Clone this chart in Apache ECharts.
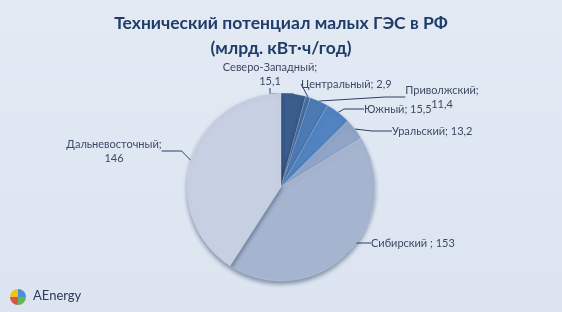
<!DOCTYPE html>
<html><head><meta charset="utf-8">
<script src="https://cdn.jsdelivr.net/npm/echarts@6/dist/echarts.min.js"></script>
<style>html,body{margin:0;padding:0;}#c{width:562px;height:312px;background:linear-gradient(180deg,#e3eaf4 0%,#dbe4f0 100%);}</style>
</head><body><div id="c"></div>
<script>
const regions = ['Северо-Западный','Центральный','Приволжский','Южный','Уральский','Сибирский','Дальневосточный'];
const values = [15.1, 2.9, 11.4, 15.5, 13.2, 153, 146];
const labelTexts = ['Северо-Западный;\n15,1','Центральный; 2,9','Приволжский;\n11,4','Южный; 15,5','Уральский; 13,2','Сибирский ; 153','Дальневосточный;\n146'];
const colors = ['#3b5d8c','#4672a6','#4c7ab4','#5083c0','#8fa4c6','#a5b5d0','#c7cfe2'];
// label anchor positions (label text placement, not data marks)
const labelPos = [[270,74,'center'],[301,84,'left'],[442,97,'center'],[364,109,'left'],[392,131,'left'],[371,243,'left'],[114,151,'center']];
const chart = echarts.init(document.getElementById('c'));
chart.setOption({
  title: {
    text: 'Технический потенциал малых ГЭС в РФ\n(млрд. кВт·ч/год)',
    left: 'center', top: 6,
    textStyle: {fontFamily: 'Lato', fontSize: 17.5, fontWeight: 'bold', color: '#1f3d6a', lineHeight: 25}
  },
  series: [{
    type: 'pie',
    center: [281, 187],
    radius: 94,
    startAngle: 90,
    clockwise: true,
    silent: true,
    itemStyle: {borderColor: 'rgba(255,255,255,0.35)', borderWidth: 0.5, shadowBlur: 4, shadowOffsetY: 3, shadowColor: 'rgba(20,40,80,0.45)'},
    label: {
      show: true,
      fontFamily: 'Lato', fontSize: 11, color: '#3d4a66', lineHeight: 14,
      formatter: p => labelTexts[p.dataIndex]
    },
    labelLine: {show: true, length: 10, length2: 20, lineStyle: {color: '#2b3f66', width: 1}},
    labelLayout: function (p) {
      const lp = labelPos[p.dataIndex];
      return {x: lp[0], y: lp[1], align: lp[2], verticalAlign: 'middle'};
    },
    data: regions.map((r, i) => ({name: r, value: values[i], itemStyle: {color: colors[i]}}))
  }],
  graphic: [
    {type: 'sector', shape: {cx: 18, cy: 297, r: 8, startAngle: -Math.PI/2, endAngle: 0}, style: {fill: '#4a8fd6'}},
    {type: 'sector', shape: {cx: 18, cy: 297, r: 8, startAngle: 0, endAngle: Math.PI/2}, style: {fill: '#5cb85c'}},
    {type: 'sector', shape: {cx: 18, cy: 297, r: 8, startAngle: Math.PI/2, endAngle: Math.PI}, style: {fill: '#d9534f'}},
    {type: 'sector', shape: {cx: 18, cy: 297, r: 8, startAngle: Math.PI, endAngle: 1.5*Math.PI}, style: {fill: '#f0c419'}},
    {type: 'text', left: 33, top: 289, style: {text: 'AEnergy', fontFamily: 'Lato', fontSize: 13, fill: '#2b3c58'}}
  ]
});
</script></body></html>
